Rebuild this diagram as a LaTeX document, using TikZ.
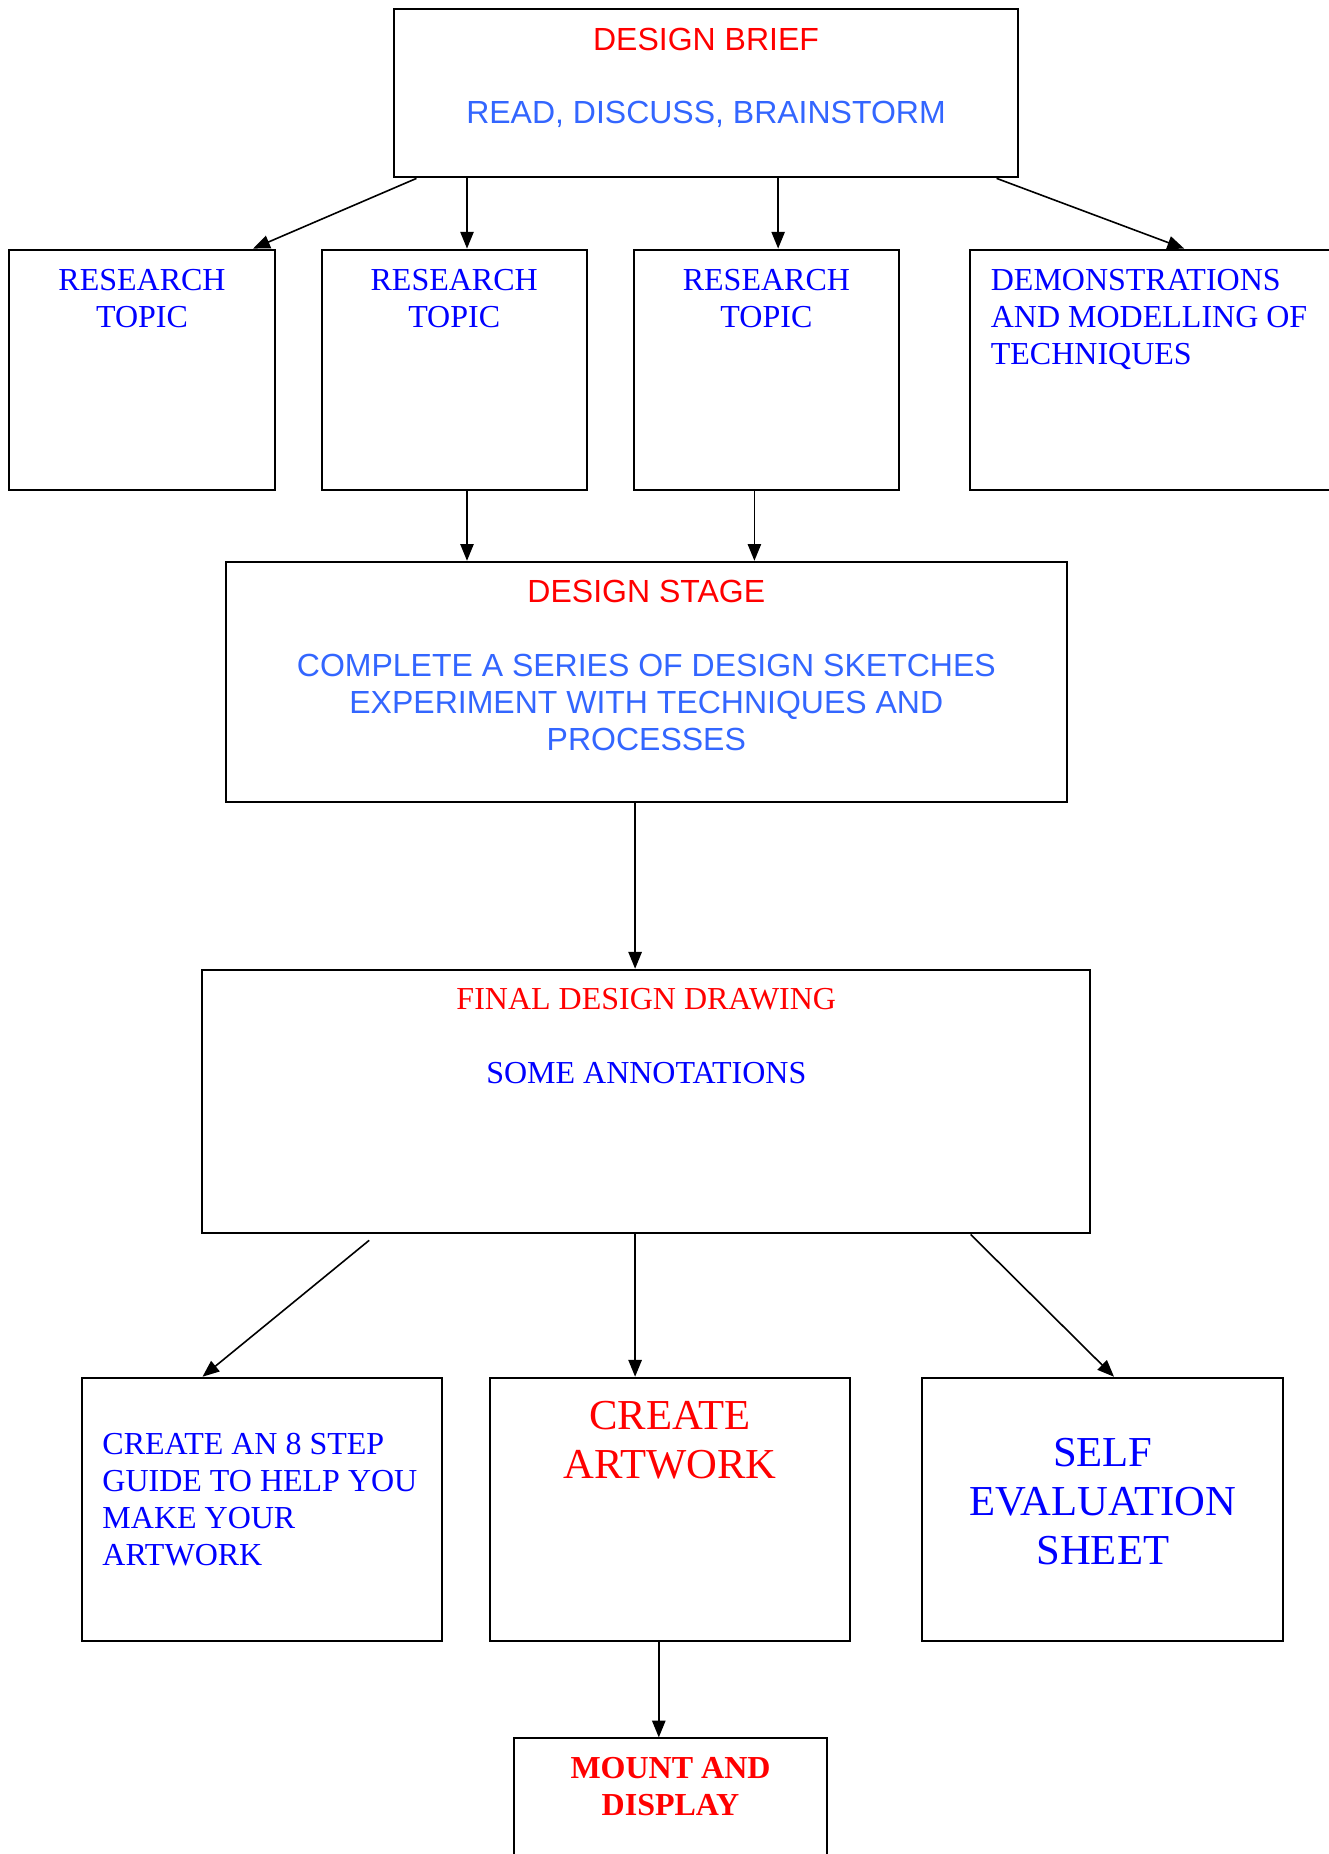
\documentclass[tikz,border=0pt]{standalone}
\usepackage{fontspec}
\setmainfont{Liberation Serif}
\newfontfamily\arialfont{Liberation Sans}
\usetikzlibrary{positioning,arrows.meta}
\definecolor{sketchblue}{HTML}{3366FF}

\begin{document}
\begin{tikzpicture}[x=0.375pt,y=-0.375pt,
    box/.style={draw,rectangle,line width=0.75pt,inner sep=0pt},
    topicbox/.style={box,minimum width=99.4pt,minimum height=90pt},
    lowbox/.style={box,minimum width=135.3pt,minimum height=98.9pt},
    lbl/.style={inner sep=0pt,anchor=base,align=center,font=\fontsize{12}{13.8}\selectfont},
    biglbl/.style={lbl,font=\fontsize{16}{18.4}\selectfont},
    sanslbl/.style={lbl,font=\arialfont\fontsize{12}{13.8}\selectfont},
    arr/.style={-{Triangle[length=6.3pt,width=5pt]},line width=0.6pt}]
    \useasboundingbox (0,0) rectangle (1328,1854);

    % top row (text nodes sit on the baseline of their last line)
    \node (brief) [box,minimum width=234pt,minimum height=63pt] at (706,93.4) {};
    \node (brieftxt) [sanslbl] at ([yshift=-43.3pt]brief.north)
        {\textcolor{red}{DESIGN BRIEF}\\[13.8pt]\textcolor{sketchblue}{READ, DISCUSS, BRAINSTORM}};

    \node (topic1) [topicbox] at (142,369.6) {};
    \node (topic2) [topicbox] at (454.2,369.6) {};
    \node (topic3) [topicbox] at (766.4,369.6) {};
    \node (demo) [box,minimum width=142.5pt,minimum height=90pt] at (1160,369.6) {};
    \node (topic1txt) [lbl,text=blue] at ([yshift=-29.7pt]topic1.north) {RESEARCH\\TOPIC};
    \node (topic2txt) [lbl,text=blue] at ([yshift=-29.7pt]topic2.north) {RESEARCH\\TOPIC};
    \node (topic3txt) [lbl,text=blue] at ([yshift=-29.7pt]topic3.north) {RESEARCH\\TOPIC};
    \node (demotxt) [lbl,text=blue,anchor=base west,align=left]
        at ([xshift=8pt,yshift=-43.5pt]demo.north west)
        {DEMONSTRATIONS\\AND MODELLING OF\\TECHNIQUES};

    % middle
    \node (stage) [box,minimum width=315.3pt,minimum height=90pt] at (646.3,681.8) {};
    \node (stagetxt) [sanslbl] at ([yshift=-71pt]stage.north)
        {\textcolor{red}{DESIGN STAGE}\\[13.8pt]
         \textcolor{sketchblue}{COMPLETE A SERIES OF DESIGN SKETCHES}\\
         \textcolor{sketchblue}{EXPERIMENT WITH TECHNIQUES AND}\\
         \textcolor{sketchblue}{PROCESSES}};

    \node (final) [box,minimum width=333.1pt,minimum height=98.9pt] at (646.3,1101.6) {};
    \node (finaltxt) [lbl] at ([yshift=-43pt]final.north)
        {\textcolor{red}{FINAL DESIGN DRAWING}\\[13.8pt]\textcolor{blue}{SOME ANNOTATIONS}};

    % bottom row
    \node (guide) [lowbox] at (262,1509.6) {};
    \node (art) [lowbox] at (670,1509.6) {};
    \node (self) [lowbox] at (1102.8,1509.6) {};
    \node (guidetxt) [lbl,text=blue,anchor=base west,align=left]
        at ([xshift=8pt,yshift=-70.6pt]guide.north west)
        {CREATE AN 8 STEP\\GUIDE TO HELP YOU\\MAKE YOUR\\ARTWORK};
    \node (arttxt) [biglbl,text=red] at ([yshift=-38.3pt]art.north) {CREATE\\ARTWORK};
    \node (selftxt) [biglbl,text=blue] at ([yshift=-70.3pt]self.north) {SELF\\EVALUATION\\SHEET};

    \node (mount) [box,minimum width=117.1pt,minimum height=90.6pt] at (670.5,1859.2) {};
    \node (mounttxt) [lbl,text=red,font=\bfseries\fontsize{12}{13.8}\selectfont]
        at ([yshift=-29.2pt]mount.north) {MOUNT AND\\DISPLAY};

    % connectors
    \draw[arr] ([xshift=8.8pt]brief.south west) -- ([xshift=-8.4pt]topic1.north east);
    \draw[arr] ([xshift=4.8pt]topic2.north |- brief.south) -- ([xshift=4.8pt]topic2.north);
    \draw[arr] ([xshift=4.4pt]topic3.north |- brief.south) -- ([xshift=4.4pt]topic3.north);
    \draw[arr] ([xshift=-8.4pt]brief.south east) -- ([xshift=80.7pt]demo.north west);
    \draw[arr] ([xshift=4.8pt]topic2.south) -- ([xshift=4.8pt]topic2.south |- stage.north);
    \draw[arr] ([xshift=-4.5pt]topic3.south) -- ([xshift=-4.5pt]topic3.south |- stage.north);
    \draw[arr] ([xshift=-4.2pt]stage.south) -- ([xshift=-4.2pt]stage.south |- final.north);
    \draw[arr] ([xshift=63pt,yshift=-2.2pt]final.south west) -- ([xshift=45.7pt]guide.north west);
    \draw[arr] ([xshift=-4.2pt]final.south) -- ([xshift=-4.2pt]final.south |- art.north);
    \draw[arr] ([xshift=-45.3pt]final.south east) -- ([xshift=4.2pt]self.north);
    \draw[arr] ([xshift=-4.2pt]art.south) -- ([xshift=-4.2pt]art.south |- mount.north);
\end{tikzpicture}
\end{document}
